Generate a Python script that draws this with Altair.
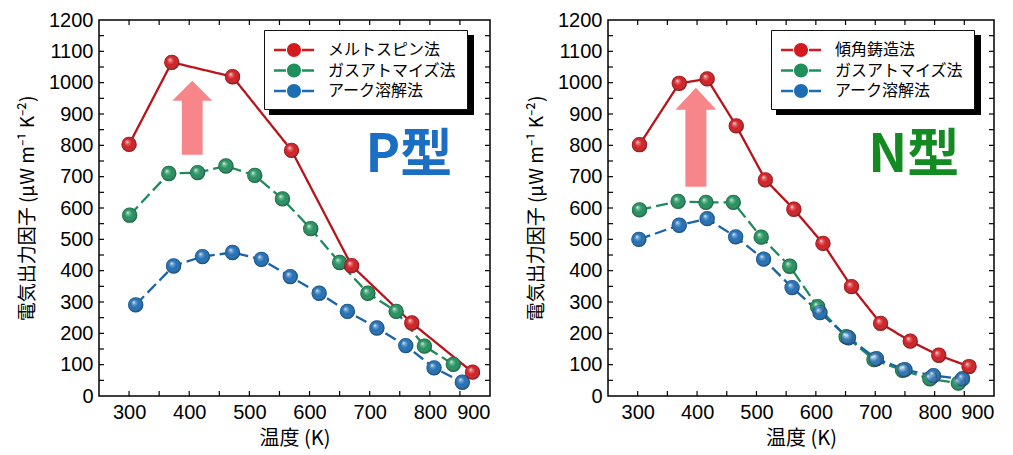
import altair as alt
import pandas as pd

NUM_FONT = "Liberation Sans, Arial, Noto Sans CJK JP"
JP_FONT = "Noto Sans CJK JP, Liberation Sans"

# ---------------- data ----------------
# P-type panel
p_labels = ["メルトスピン法", "ガスアトマイズ法", "アーク溶解法"]
p_red_T = [300, 371, 472, 570, 670, 770, 871]
p_red_v = [803, 1065, 1019, 784, 416, 233, 76]
p_green_T = [301, 366, 414, 461, 509, 555, 602, 650, 697, 744, 791, 839]
p_green_v = [577, 710, 713, 734, 704, 629, 534, 426, 328, 270, 159, 101]
p_blue_T = [311, 374, 422, 472, 520, 568, 616, 663, 712, 760, 807, 854]
p_blue_v = [291, 415, 445, 458, 436, 381, 328, 270, 217, 161, 90, 44]

# N-type panel
n_labels = ["傾角鋳造法", "ガスアトマイズ法", "アーク溶解法"]
n_red_T = [303, 370, 417, 466, 515, 563, 612, 660, 709, 759, 807, 858]
n_red_v = [802, 998, 1012, 862, 690, 596, 487, 349, 232, 175, 130, 94]
n_green_T = [303, 368, 415, 461, 508, 556, 603, 651, 698, 746, 792, 840]
n_green_v = [594, 621, 618, 618, 507, 414, 285, 189, 116, 82, 55, 41]
n_blue_T = [302, 370, 417, 465, 512, 560, 607, 655, 702, 750, 798, 847]
n_blue_v = [500, 545, 566, 508, 437, 346, 266, 186, 119, 84, 65, 55]

x_labels = [300, 400, 500, 600, 700, 800, 900]
y_labels = [0, 100, 200, 300, 400, 500, 600, 700, 800, 900, 1000, 1100, 1200]
x_ticks = [300, 350, 400, 450, 500, 550, 600, 650, 700, 750, 800, 850]
y_ticks = [50, 100, 150, 200, 250, 300, 350, 400, 450, 500, 550, 600,
           650, 700, 750, 800, 850, 900, 950, 1000, 1050, 1100, 1150]

# annotations
p_tag, n_tag = "P型", "N型"
tag_T, tag_v = [765], [765]
p_arrow_T, p_arrow_v = [405], [888]
n_arrow_T, n_arrow_v = [398], [826]

# ---------------- style ----------------
fill_colors = ["#d21a1f", "#1f8f5c", "#1d6db5"]
line_colors = ["#b8141c", "#1f8a5a", "#1a63a8"]
H = 376

sphere_gloss = alt.RadialGradient(
    gradient="radial",
    x1=0.36, y1=0.32, r1=0.0,
    x2=0.5, y2=0.5, r2=0.5,
    stops=[
        alt.GradientStop(offset=0.0, color="rgba(255,255,255,0.95)"),
        alt.GradientStop(offset=0.22, color="rgba(255,255,255,0.35)"),
        alt.GradientStop(offset=0.55, color="rgba(255,255,255,0)"),
        alt.GradientStop(offset=1.0, color="rgba(0,0,0,0.38)"),
    ],
)

# legend glyph: dash - ball - dash (units of 10 px with symbolSize 400)
legend_symbol = ("M-1,-0.12H0.2V0.12H-1Z M1.8,-0.12H3V0.12H1.8Z "
                 "M0.3,0A0.7,0.7,0,1,0,1.7,0A0.7,0.7,0,1,0,0.3,0Z")
p_arrow_path = ("M0,-0.925L0.5,-0.425L0.26,-0.425L0.26,0.925L-0.26,0.925"
                "L-0.26,-0.425L-0.5,-0.425Z")
n_arrow_path = ("M0,-0.99L0.41,-0.55L0.21,-0.55L0.21,0.99L-0.21,0.99"
                "L-0.21,-0.55L-0.41,-0.55Z")

LEG_W, LEG_H = 205, 80


def build_df(labels, red, green, blue):
    rows = []
    # draw order: green (0), blue (1), red (2) on top
    for order, (lab, (T, v)) in zip([2, 0, 1], zip(labels, [red, green, blue])):
        for t, val in zip(T, v):
            rows.append({"series": lab, "T": t, "v": val, "o": order})
    return pd.DataFrame(rows)


def panel(df, labels, tag, tag_color, arrow_T, arrow_v, arrow_path, arrow_size,
          legend_x, W):
    xs = alt.Scale(domain=[250, 900], nice=False, zero=False)
    ys = alt.Scale(domain=[0, 1200], nice=False, zero=False)
    X = alt.X("T:Q", scale=xs,
              axis=alt.Axis(values=x_labels, format="d", title="温度 (K)",
                            titleFont=JP_FONT, titleFontSize=20, titlePadding=6))
    Y = alt.Y("v:Q", scale=ys,
              axis=alt.Axis(values=y_labels, format="d",
                            title="電気出力因子 (μW m⁻¹ K⁻²)",
                            titleFont=JP_FONT, titleFontSize=19, titlePadding=11))

    base = alt.Chart(df)
    # lines keyed on the numeric order code so their (legend-less) scales
    # do not merge with the fill legend
    lines = base.mark_line(strokeWidth=2.3).encode(
        x=X, y=Y,
        stroke=alt.Stroke("o:N", scale=alt.Scale(domain=[2, 0, 1], range=line_colors),
                          legend=None),
        strokeDash=alt.StrokeDash("o:N",
                                  scale=alt.Scale(domain=[2, 0, 1],
                                                  range=[[1, 0], [12, 5], [12, 5]]),
                                  legend=None),
    )
    pts = base.mark_point(filled=True, shape="circle", size=235, opacity=1).encode(
        x=X, y=Y,
        fill=alt.Fill("series:N", scale=alt.Scale(domain=labels, range=fill_colors),
                      legend=alt.Legend(
                          title=None, orient="none", legendX=legend_x, legendY=10,
                          fillColor="white", strokeColor="#111", zindex=1,
                          padding=10, symbolType=legend_symbol, symbolSize=400,
                          symbolStrokeWidth=0, symbolOpacity=1,
                          labelFont=JP_FONT, labelFontSize=16, labelColor="black",
                          labelOffset=34, rowPadding=2.5, labelLimit=300)),
        order=alt.Order("o:Q"),
    )
    gloss = base.mark_point(filled=True, shape="circle", size=235, opacity=1,
                            fill=sphere_gloss, strokeWidth=0).encode(
        x=X, y=Y, order=alt.Order("o:Q"))

    shadow = alt.Chart(pd.DataFrame({"a": [0]})).mark_rect(color="black").encode(
        x=alt.value(legend_x + 5), x2=alt.value(legend_x + LEG_W + 5),
        y=alt.value(15), y2=alt.value(10 + LEG_H + 5))

    arrow = alt.Chart(pd.DataFrame({"T": arrow_T, "v": arrow_v})).mark_point(
        shape=arrow_path, size=arrow_size, filled=True, fill="#f7868b",
        opacity=1, strokeWidth=0).encode(x=X, y=Y)

    text = alt.Chart(pd.DataFrame({"T": tag_T, "v": tag_v, "t": [tag]})).mark_text(
        font=JP_FONT, fontSize=52, fontWeight="bold", color=tag_color,
        align="center", baseline="middle").encode(x=X, y=Y, text="t:N")

    tx = pd.DataFrame({"T": x_ticks})
    ty = pd.DataFrame({"v": y_ticks})
    tick_style = dict(color="black", strokeWidth=1.2)
    t_bottom = alt.Chart(tx).mark_rule(**tick_style).encode(
        x=X, y=alt.value(H), y2=alt.value(H - 5))
    t_top = alt.Chart(tx).mark_rule(**tick_style).encode(
        x=X, y=alt.value(0), y2=alt.value(5))
    t_left = alt.Chart(ty).mark_rule(**tick_style).encode(
        y=Y, x=alt.value(0), x2=alt.value(5))
    t_right = alt.Chart(ty).mark_rule(**tick_style).encode(
        y=Y, x=alt.value(W), x2=alt.value(W - 5))

    return alt.layer(shadow, t_bottom, t_top, t_left, t_right, arrow, text,
                     lines, pts, gloss).properties(width=W, height=H)


p_df = build_df(p_labels, (p_red_T, p_red_v), (p_green_T, p_green_v), (p_blue_T, p_blue_v))
n_df = build_df(n_labels, (n_red_T, n_red_v), (n_green_T, n_green_v), (n_blue_T, n_blue_v))

left = panel(p_df, p_labels, p_tag, "#1a6fc4", p_arrow_T, p_arrow_v,
             p_arrow_path, 6400, 165, 391)
right = panel(n_df, n_labels, n_tag, "#138a22", n_arrow_T, n_arrow_v,
              n_arrow_path, 10000, 163, 386)

chart = alt.hconcat(left, right, spacing=34).resolve_scale(
    fill="independent", stroke="independent", strokeDash="independent"
).resolve_legend(fill="independent").properties(
    padding={"left": 9, "top": 1, "right": 0, "bottom": 0}
).configure_view(stroke="black", strokeWidth=1.5).configure_axis(
    labelFont=NUM_FONT, labelFontSize=20, labelColor="black",
    titleFontWeight="normal", titleColor="black",
    domain=False, ticks=False, grid=False, labelPadding=6,
)

chart.save("out.html", embed_options={"renderer": "svg", "actions": False})
